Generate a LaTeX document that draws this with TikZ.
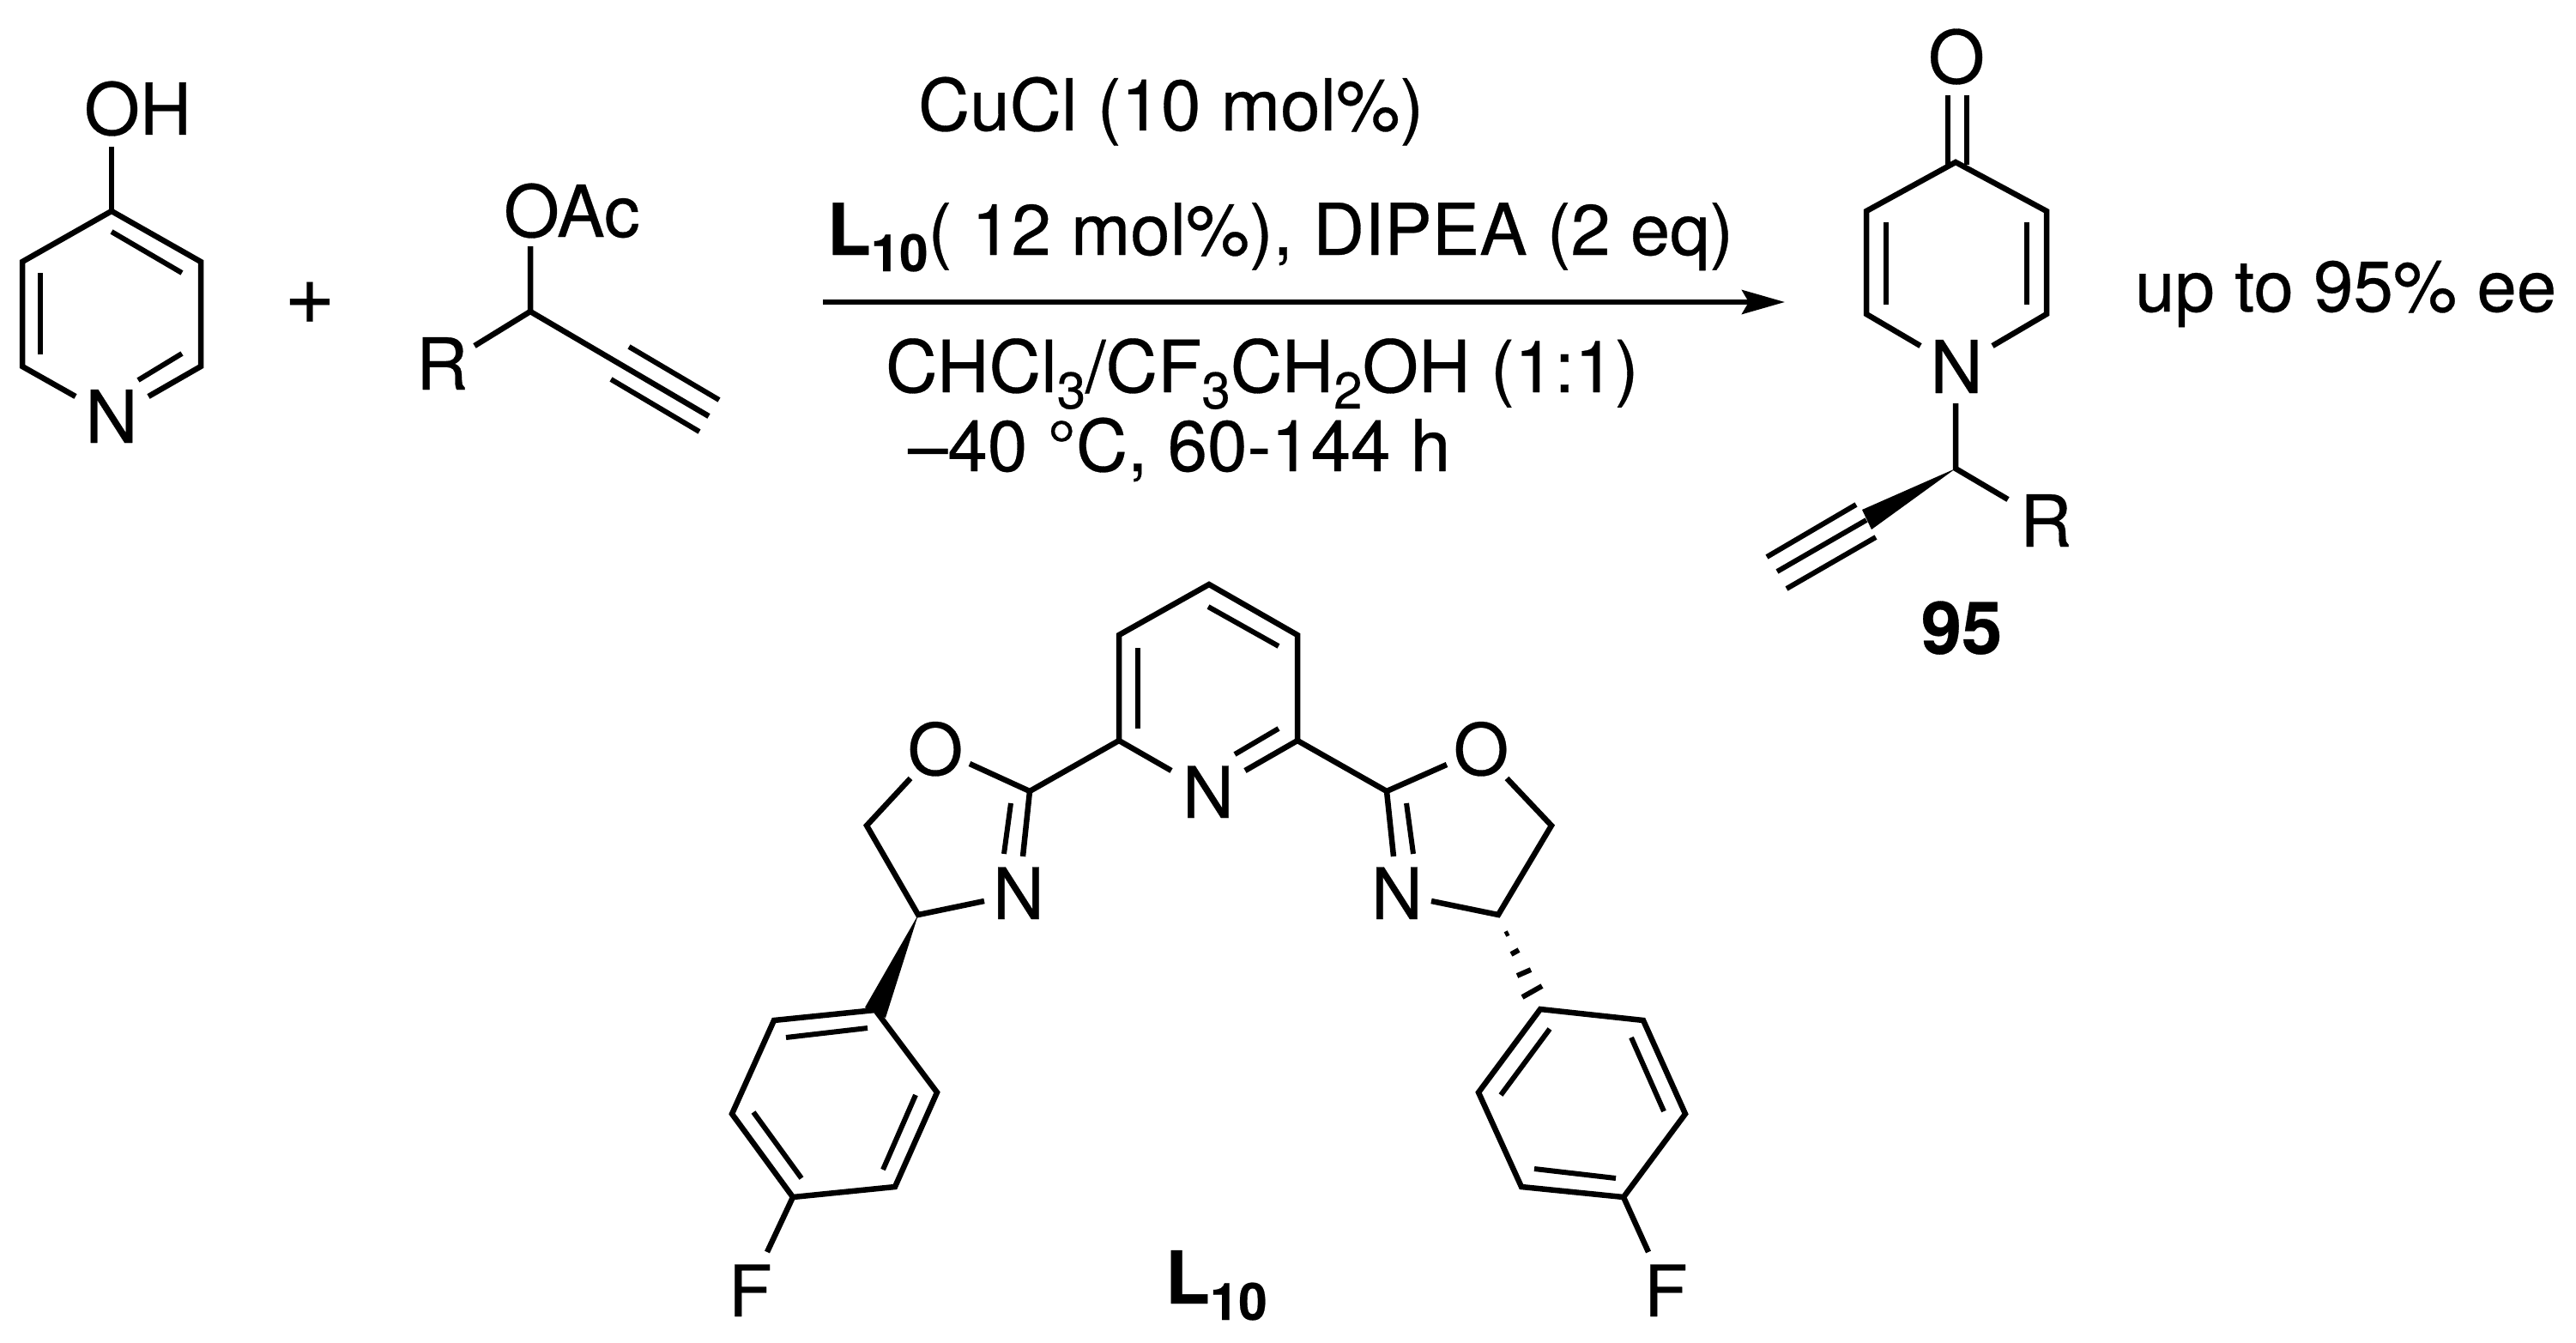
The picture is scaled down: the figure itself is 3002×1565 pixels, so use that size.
\documentclass[tikz,border=0pt]{standalone}
\usepackage{fontspec}
\setmainfont{TeX Gyre Heros}[FakeBold=0.35]
\usetikzlibrary{arrows.meta}
\newcommand{\lowsub}[1]{\raisebox{-19pt}{\fontsize{60}{60}\selectfont #1}}
\tikzset{
  bond/.style={line width=6.5pt,line join=miter,miter limit=10},
  inner bond/.style={line width=6pt},
  wedge bond/.style={fill=black,draw=none},
  atom/.style={inner sep=0pt,outer sep=0pt,font=\fontsize{85}{85}\selectfont,anchor=base},
  latom/.style={inner sep=0pt,outer sep=0pt,font=\fontsize{83}{83}\selectfont,anchor=base},
  txt/.style={inner sep=0pt,outer sep=0pt,font=\fontsize{83.5}{85}\selectfont,anchor=base west},
  boldtxt/.style={txt,font=\fontsize{85}{85}\selectfont\bfseries},
}
\begin{document}
\begin{tikzpicture}[x=1pt,y=-1pt]
\useasboundingbox (0,0) rectangle (3002,1565);
% ---- texts
\node[txt] (oh) at (98,157) {OH};
\node[atom] (n1) at (130,516) {N};
\node[inner sep=0pt,font=\fontsize{102}{102}\selectfont] (plus) at (361,353) {+};
\node[txt] (oac) at (587,276) {OAc};
\node[txt] (r1) at (485,454) {R};
\node[txt] (c1) at (1070,152) {CuCl (10 mol\%)};
\node[txt,font=\fontsize{83.2}{85}\selectfont] (c2) at (964,297) {\textbf{L\lowsub{10}}( 12 mol\%), DIPEA (2 eq)};
\node[txt,font=\fontsize{84}{85}\selectfont] (c3) at (1032,457) {CHCl\lowsub{3}/CF\lowsub{3}CH\lowsub{2}OH (1:1)};
\node[txt] (c4) at (1058,549) {–40 °C, 60-144 h};
\node[atom] (po) at (2280,97) {O};
\node[atom] (pn) at (2280,458) {N};
\node[txt] (pr) at (2354,637) {R};
\node[boldtxt,anchor=base] (p95) at (2286,762) {95};
\node[txt] (ee) at (2488,363) {up to 95\% ee};
\node[latom] (ln) at (1408,953) {N};
\node[latom] (lo1) at (1090,903) {O};
\node[latom] (ln1) at (1187,1071) {N};
\node[latom] (lo2) at (1726,903) {O};
\node[latom] (ln2) at (1628,1071) {N};
\node[latom,anchor=base west] (lf1) at (849,1534) {F};
\node[latom,anchor=base west] (lf2) at (1916,1534) {F};
\node[boldtxt] (l10) at (1358,1519) {L\lowsub{10}};
% ---- 4-hydroxypyridine
\coordinate (a1) at (130,246); \coordinate (a2) at (234,305); \coordinate (a3) at (234,427);
\coordinate (a4) at (173,462); \coordinate (a5) at (88,462); \coordinate (a6) at (26,427);
\coordinate (a7) at (26,305); \coordinate (a8) at (130,171);
\coordinate (a9) at (130,270); \coordinate (a10) at (212,318); \coordinate (a11) at (47,318);
\coordinate (a12) at (47,413); \coordinate (a13) at (212,412); \coordinate (a14) at (161,443);
\draw[bond] (a4) -- (a3) -- (a2) -- (a1) -- (a7) -- (a6) -- (a5);
\draw[bond] (a8) -- (a1);
\draw[inner bond] (a9) -- (a10);
\draw[inner bond] (a11) -- (a12);
\draw[inner bond] (a13) -- (a14);
% ---- propargyl acetate
\coordinate (b1) at (618,363); \coordinate (b2) at (618,287); \coordinate (b3) at (553,403);
\coordinate (b4) at (826,485); \coordinate (b5) at (733,404); \coordinate (b6) at (838,466);
\coordinate (b7) at (712,442); \coordinate (b8) at (815,503);
\draw[bond] (b2) -- (b1) -- (b3);
\draw[bond] (b1) -- (b4);
\draw[inner bond] (b5) -- (b6);
\draw[inner bond] (b7) -- (b8);
% ---- arrow
\coordinate (ar1) at (959,352); \coordinate (ar2) at (2080,352);
\draw[line width=6pt,-{Stealth[length=50pt,width=28pt,inset=8pt]}] (ar1) -- (ar2);
% ---- product
\coordinate (c41) at (2279,189); \coordinate (c42) at (2385,246); \coordinate (c43) at (2385,366);
\coordinate (c44) at (2322,403); \coordinate (c45) at (2238,403); \coordinate (c46) at (2175,366);
\coordinate (c47) at (2175,246);
\coordinate (d1) at (2270,111); \coordinate (d2) at (2270,192); \coordinate (d3) at (2292,111); \coordinate (d4) at (2292,192);
\coordinate (d5) at (2198,259); \coordinate (d6) at (2198,355); \coordinate (d7) at (2362,259); \coordinate (d8) at (2362,355);
\coordinate (d9) at (2279,470); \coordinate (d10) at (2279,546); \coordinate (d11) at (2340,582);
\coordinate (d12) at (2170,594); \coordinate (d13) at (2181,617); \coordinate (d14) at (2175,606);
\coordinate (d15) at (2071,666); \coordinate (d16) at (2163,588); \coordinate (d17) at (2059,649);
\coordinate (d18) at (2186,626); \coordinate (d19) at (2082,686);
\draw[bond] (c44) -- (c43) -- (c42) -- (c41) -- (c47) -- (c46) -- (c45);
\draw[inner bond] (d1) -- (d2);
\draw[inner bond] (d3) -- (d4);
\draw[inner bond] (d5) -- (d6);
\draw[inner bond] (d7) -- (d8);
\draw[bond] (d9) -- (d10) -- (d11);
\fill[wedge bond] (d10) -- (d12) -- (d13) -- cycle;
\draw[inner bond] (d14) -- (d15);
\draw[inner bond] (d16) -- (d17);
\draw[inner bond] (d18) -- (d19);
% ---- ligand pyridine
\coordinate (e1) at (1409,681); \coordinate (e2) at (1304,740); \coordinate (e3) at (1304,863);
\coordinate (e4) at (1512,740); \coordinate (e5) at (1512,863); \coordinate (e6) at (1365,898);
\coordinate (e7) at (1451,898); \coordinate (e8) at (1490,849); \coordinate (e9) at (1439,879);
\coordinate (e10) at (1326,755); \coordinate (e11) at (1326,849); \coordinate (e12) at (1408,707);
\coordinate (e13) at (1490,753);
\draw[bond] (e6) -- (e3) -- (e2) -- (e1) -- (e4) -- (e5) -- (e7);
\draw[inner bond] (e8) -- (e9);
\draw[inner bond] (e10) -- (e11);
\draw[inner bond] (e12) -- (e13);
% ---- left oxazoline and aryl
\coordinate (f1) at (1200,922); \coordinate (f2) at (1130,890); \coordinate (f3) at (1192,998);
\coordinate (f4) at (1178,936); \coordinate (f5) at (1170,995); \coordinate (f6) at (1061,907);
\coordinate (f7) at (1010,962); \coordinate (f8) at (1070,1066); \coordinate (f9) at (1147,1050);
\coordinate (f10) at (1008,1174); \coordinate (f11) at (1032,1186);
\coordinate (g1) at (1020,1177); \coordinate (g2) at (902,1189); \coordinate (g3) at (853,1298);
\coordinate (g4) at (924,1395); \coordinate (g5) at (1043,1383); \coordinate (g6) at (1092,1273);
\coordinate (g7) at (916,1209); \coordinate (g8) at (1011,1198); \coordinate (g9) at (878,1296);
\coordinate (g10) at (934,1373); \coordinate (g11) at (1029,1363); \coordinate (g12) at (1067,1276);
\coordinate (g13) at (894,1459);
\draw[bond] (e3) -- (f1) -- (f2);
\draw[bond] (f1) -- (f3);
\draw[inner bond] (f4) -- (f5);
\draw[bond] (f6) -- (f7) -- (f8) -- (f9);
\fill[wedge bond] (f8) -- (f10) -- (f11) -- cycle;
\draw[bond] (g1) -- (g2) -- (g3) -- (g4) -- (g5) -- (g6) -- cycle;
\draw[inner bond] (g7) -- (g8);
\draw[inner bond] (g9) -- (g10);
\draw[inner bond] (g11) -- (g12);
\draw[bond] (g4) -- (g13);
% ---- right oxazoline and aryl
\coordinate (h1) at (1616,922); \coordinate (h2) at (1686,891); \coordinate (h3) at (1624,998);
\coordinate (h4) at (1639,936); \coordinate (h5) at (1647,995); \coordinate (h6) at (1756,907);
\coordinate (h7) at (1808,962); \coordinate (h8) at (1746,1066); \coordinate (h9) at (1668,1050);
\coordinate (s1a) at (1754,1089); \coordinate (s1b) at (1758,1087);
\coordinate (s2a) at (1761,1112); \coordinate (s2b) at (1770,1107);
\coordinate (s3a) at (1768,1137); \coordinate (s3b) at (1784,1130);
\coordinate (s4a) at (1774,1162); \coordinate (s4b) at (1797,1149);
\coordinate (i1) at (1795,1176); \coordinate (i2) at (1915,1189); \coordinate (i3) at (1964,1298);
\coordinate (i4) at (1892,1395); \coordinate (i5) at (1773,1383); \coordinate (i6) at (1723,1273);
\coordinate (i7) at (1806,1199); \coordinate (i8) at (1749,1276); \coordinate (i9) at (1901,1209);
\coordinate (i10) at (1939,1295); \coordinate (i11) at (1788,1362); \coordinate (i12) at (1883,1373);
\coordinate (i13) at (1921,1459);
\draw[bond] (e5) -- (h1) -- (h2);
\draw[bond] (h1) -- (h3);
\draw[inner bond] (h4) -- (h5);
\draw[bond] (h6) -- (h7) -- (h8) -- (h9);
\draw[inner bond] (s1a) -- (s1b);
\draw[inner bond] (s2a) -- (s2b);
\draw[inner bond] (s3a) -- (s3b);
\draw[inner bond] (s4a) -- (s4b);
\draw[bond] (i1) -- (i2) -- (i3) -- (i4) -- (i5) -- (i6) -- cycle;
\draw[inner bond] (i7) -- (i8);
\draw[inner bond] (i9) -- (i10);
\draw[inner bond] (i11) -- (i12);
\draw[bond] (i4) -- (i13);
\end{tikzpicture}
\end{document}
